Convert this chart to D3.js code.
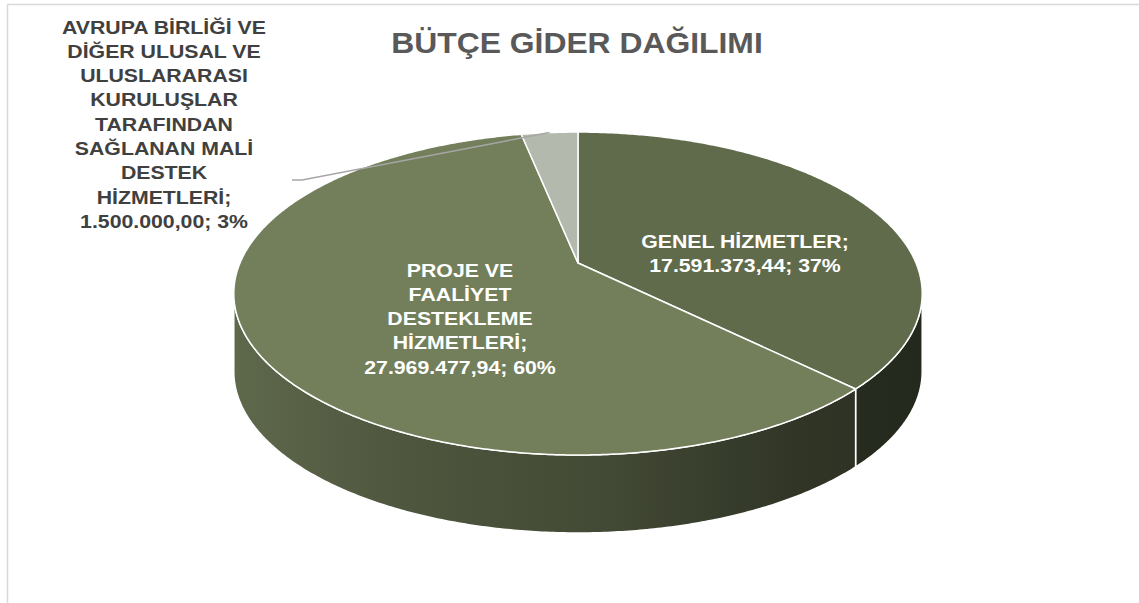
<!DOCTYPE html>
<html>
<head>
<meta charset="utf-8">
<script src="https://cdn.jsdelivr.net/npm/d3@7"></script>
<style>
  body { margin: 0; background: #fff; }
  svg { display: block; font-family: "Liberation Sans", Arial, sans-serif; }
</style>
</head>
<body>
<svg></svg>
<script>
// data
const categories = [
	'GENEL HİZMETLER',
	'PROJE VE FAALİYET DESTEKLEME HİZMETLERİ',
	'AVRUPA BİRLİĞİ VE DİĞER ULUSAL VE ULUSLARARASI KURULUŞLAR TARAFINDAN SAĞLANAN MALİ DESTEK HİZMETLERİ'
];
const values = [17591373.44, 27969477.94, 1500000.00];
const percentLabels = ['37%', '60%', '3%'];
// how each category name is wrapped in its label
const nameLines = [
	['GENEL HİZMETLER'],
	['PROJE VE', 'FAALİYET', 'DESTEKLEME', 'HİZMETLERİ'],
	['AVRUPA BİRLİĞİ VE', 'DİĞER ULUSAL VE', 'ULUSLARARASI', 'KURULUŞLAR', 'TARAFINDAN', 'SAĞLANAN MALİ', 'DESTEK', 'HİZMETLERİ']
];

const sliceColors = ['#5f6b4b', '#737f5b', '#b4b9ae'];

const width = 1139;
const height = 603;

const svg = d3.select('svg')
	.attr('width', width)
	.attr('height', height);

// chart frame (only top and left edge fall inside the picture)
svg.append('rect')
	.attr('x', 7.5).attr('y', 4.5)
	.attr('width', width + 50).attr('height', height + 50)
	.attr('fill', 'none')
	.attr('stroke', '#d9d9d9')
	.attr('stroke-width', 1.5);

svg.append('text')
	.attr('transform', 'translate(577,53) scale(1.08,1)')
	.attr('text-anchor', 'middle')
	.attr('font-size', 29.5)
	.attr('font-weight', 'bold')
	.attr('fill', '#595959')
	.text('BÜTÇE GİDER DAĞILIMI');

// simple perspective projection of a tilted disc
const cx = 578, cy = 263;
const rx = 338, ry = 155.7, k = 0.189;
const depth = 78;

const project = (theta, r = 1, dz = 0) => {
	const u = r * Math.sin(theta);
	const v = r * Math.cos(theta);
	const s = 1 / (1 + k * v);
	return [cx + rx * u * s, cy - ry * v * s + dz];
};

const arcPoints = (a0, a1, dz = 0) => {
	const n = Math.max(2, Math.ceil((a1 - a0) / (Math.PI / 360)));
	return d3.range(n + 1).map(i => project(a0 + (a1 - a0) * i / n, 1, dz));
};

const pie = d3.pie().sort(null).value(d => d)
	.startAngle(0).endAngle(2 * Math.PI);
const arcs = pie(values);

const fmt = d3.formatLocale({ decimal: ',', thousands: '.', grouping: [3], currency: ['', ''] })
	.format(',.2f');

// side shading, left to right
const edgeX = rx / Math.sqrt(1 - k * k);
const defs = svg.append('defs');
const shadeStops = [[0, 0.82], [0.25, 0.68], [0.53, 0.58], [0.82, 0.42], [1, 0.38]];
sliceColors.forEach((c, i) => {
	const grad = defs.append('linearGradient')
		.attr('id', 'side' + i)
		.attr('gradientUnits', 'userSpaceOnUse')
		.attr('x1', cx - edgeX).attr('x2', cx + edgeX)
		.attr('y1', 0).attr('y2', 0);
	grad.selectAll('stop').data(shadeStops)
		.enter().append('stop')
			.attr('offset', d => d[0])
			.attr('stop-color', d => d3.interpolateRgb('#000', c)(d[1]));
});

const line = d3.line();
const frontFrom = Math.PI / 2 + Math.asin(k);
const frontTo = 3 * Math.PI / 2 - Math.asin(k);

const g = svg.append('g');

// outer walls of the front half
arcs.forEach((d, i) => {
	const lo = Math.max(d.startAngle, frontFrom);
	const hi = Math.min(d.endAngle, frontTo);
	if (lo >= hi) return;
	const pts = arcPoints(lo, hi).concat(arcPoints(lo, hi, depth).reverse());
	g.append('path')
		.attr('d', line(pts) + 'Z')
		.attr('fill', `url(#side${i})`)
		.attr('stroke', '#fff')
		.attr('stroke-width', 1.5)
		.attr('stroke-linejoin', 'round');
});

// top faces
g.selectAll('path.top').data(arcs)
	.enter().append('path')
		.attr('class', 'top')
		.attr('d', d => line([[cx, cy]].concat(arcPoints(d.startAngle, d.endAngle))) + 'Z')
		.attr('fill', (d, i) => sliceColors[i])
		.attr('stroke', '#fff')
		.attr('stroke-width', 1.5)
		.attr('stroke-linejoin', 'round');

// data labels
const labelAnchors = [
	{ x: 745, y: 248, color: '#fff' },
	{ x: 460, y: 276.5, color: '#fff' },
	{ x: 164, y: 33.5, color: '#404040' }
];
const lineStep = 24.3;

arcs.forEach((d, i) => {
	const lines = nameLines[i].slice();
	lines[lines.length - 1] += ';';
	lines.push(`${fmt(values[i])}; ${percentLabels[i]}`);
	const a = labelAnchors[i];
	const t = svg.append('text')
		.attr('transform', `translate(${a.x},${a.y}) scale(1.12,1)`)
		.attr('text-anchor', 'middle')
		.attr('font-size', 19)
		.attr('font-weight', 'bold')
		.attr('fill', a.color);
	lines.forEach((l, j) => {
		t.append('tspan').attr('x', 0).attr('y', j * lineStep).text(l);
	});
});

// leader line for the small slice
const small = arcs[2];
const tip = project((small.startAngle + small.endAngle) / 2);
svg.append('path')
	.attr('d', line([[292, 180], [302, 180], tip]))
	.attr('fill', 'none')
	.attr('stroke', '#a6a6a6')
	.attr('stroke-width', 1.5);
</script>
</body>
</html>
